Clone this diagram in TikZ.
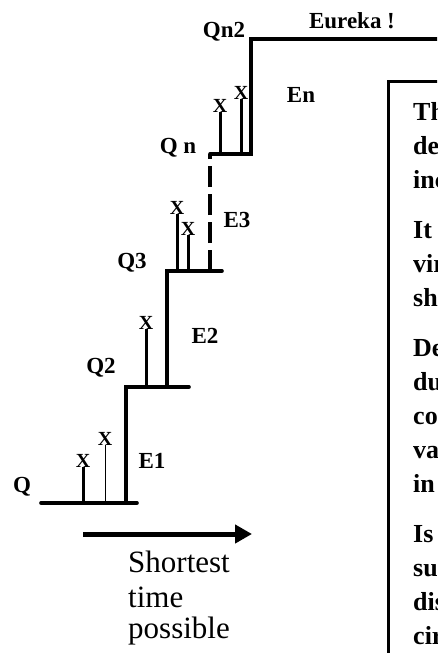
\documentclass[tikz,border=0pt]{standalone}
\usepackage{fontspec}
\setmainfont{Liberation Serif}
\usetikzlibrary{arrows.meta}

\tikzset{
	stairline/.style={line width=3.6pt, line cap=round},
	trialline/.style={line width=3pt},
	steplabel/.style={font=\fontsize{23}{25}\selectfont\bfseries, inner sep=0pt, anchor=base},
	xsign/.style={font=\fontsize{20}{22}\selectfont\bfseries, inner sep=0pt, anchor=base},
	boxtext/.style={font=\fontsize{26}{30}\selectfont\bfseries, inner sep=0pt, anchor=base west},
	timetext/.style={font=\fontsize{31}{36}\selectfont, inner sep=0pt, anchor=base west},
}

\begin{document}
\begin{tikzpicture}[x=1pt,y=-1pt]
	\useasboundingbox (0,0) rectangle (437,653);
	\clip (0,0) rectangle (437,653);

	% corners of the staircase
	\coordinate (q) at (41,503);
	\coordinate (qend) at (137,503);
	\coordinate (q2) at (126,387);
	\coordinate (q2end) at (189,387);
	\coordinate (q3) at (167,271);
	\coordinate (q3end) at (222,271);
	\coordinate (qn) at (210,154);
	\coordinate (qn2) at (251,39);
	\coordinate (eureka) at (445,39);

	\draw[stairline] (q) -- (qend);
	\draw[stairline] (q2 |- q) -- (q2) -- (q2end);
	\draw[stairline] (q3 |- q2) -- (q3) -- (q3end);
	\draw[stairline, line cap=butt, dash pattern=on 21pt off 7pt] (qn |- q3) -- (qn);
	\draw[stairline] (qn) -- (qn2 |- qn) -- (qn2) -- (eureka);

	% level and energy labels
	\node[steplabel] (lq) at (22,492) {Q};
	\node[steplabel] (le1) at (152,468) {E1};
	\node[steplabel] (lq2) at (101,373) {Q2};
	\node[steplabel] (le2) at (205,343) {E2};
	\node[steplabel] (lq3) at (132,268) {Q3};
	\node[steplabel] (le3) at (237,227) {E3};
	\node[steplabel] (lqn) at (178,153) {Q n};
	\node[steplabel] (len) at (301,102) {En};
	\node[steplabel] (lqn2) at (224,37) {Qn2};
	\node[steplabel] (leureka) at (352,28) {Eureka !};

	% failed trials on each step
	\foreach \px/\py/\base [count=\i] in {83/467/503, 146/329/387, 177/214/271, 188/235/271, 220/112/154, 241/99/154} {
		\node[xsign] (x\i) at (\px,\py) {X};
		\draw[trialline] (x\i.south) -- (x\i.south |- 0,\base);
	}
	\node[xsign] (x0) at (105,445) {X};
	\draw[line width=0.9pt] (x0.south) -- (x0.south |- q);

	% time arrow
	\coordinate (tfrom) at (83,534);
	\coordinate (tto) at (252,534);
	\draw[line width=5pt, -{Triangle[length=17pt, width=18pt]}] (tfrom) -- (tto);
	\node[timetext] (short1) at (128,572) {Shortest};
	\node[timetext] (short2) at (128,607) {time};
	\node[timetext] (short3) at (128,638) {possible};

	% text box on the right
	\coordinate (boxtl) at (388,81);
	\draw[line width=3pt] (388,660) -- (boxtl) -- (445,81);
	\foreach \t/\y [count=\i] in {The/120, dete/154, inc/188, It i/238, vir/272, sho/306, Des/356, dur/390, con/424, val/458, in t/492, Is t/542, suc/576, dis/610, cir/644}
		\node[boxtext] (line\i) at (413,\y) {\t};
\end{tikzpicture}
\end{document}
